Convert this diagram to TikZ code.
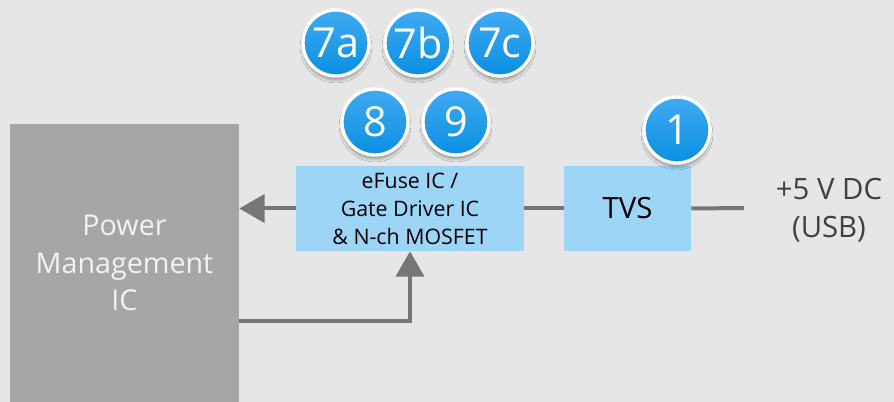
\documentclass[tikz,border=0pt]{standalone}
\usepackage{fontspec}
\setmainfont{Open Sans}
\usetikzlibrary{arrows.meta,shadows.blur}
\definecolor{bg}{HTML}{E6E6E6}
\definecolor{pmicgray}{HTML}{A6A6A6}
\definecolor{boxblue}{HTML}{9DD5F7}
\definecolor{linegray}{HTML}{767676}
\definecolor{txtgray}{HTML}{404040}
\definecolor{badgetop}{HTML}{40AAF2}
\definecolor{badgebot}{HTML}{0A8FE2}
\begin{document}
\begin{tikzpicture}[x=0.75pt,y=-0.75pt,
  blockbox/.style={rectangle,fill=boxblue,inner sep=0pt,align=center,text=black},
  badge/.style={circle,minimum size=66*0.75pt,inner sep=0pt,draw=white,line width=2.5pt,
    top color=badgetop,bottom color=badgebot,text=white,
    font=\fontsize{31}{31}\selectfont,
    blur shadow={shadow xshift=0pt,shadow yshift=-3pt,shadow blur steps=6,shadow opacity=35}},
  conn/.style={draw=linegray,line width=3pt},
  arr/.style={conn,-{Triangle[length=19pt,width=21pt]}}]
\useasboundingbox (0,0) rectangle (894,402);
\fill[bg] (0,0) rectangle (894,402);
% PMIC
\node[rectangle,fill=pmicgray,minimum width=229*0.75pt,minimum height=278*0.75pt,inner sep=0pt,
  align=center,text=white!95!black,font=\fontsize{21.5}{28}\selectfont] (pmic) at (124.5,263) {Power\\Management\\IC};
% eFuse
\node[blockbox,minimum width=228*0.75pt,minimum height=85*0.75pt,font=\fontsize{16}{21}\selectfont] (efuse) at (410,208.5) {eFuse IC /\\Gate Driver IC\\\& N-ch MOSFET};
% TVS
\node[blockbox,minimum width=127*0.75pt,minimum height=85*0.75pt,font=\fontsize{22}{26}\selectfont] (tvs) at (627.5,208.5) {TVS};
% supply label
\node[align=center,text=txtgray,font=\fontsize{22}{28.5}\selectfont] (usb) at (829,210) {+5 V DC\\(USB)};
\coordinate (usbend) at (744,208);
% connectors
\draw[conn] (efuse.east) -- (tvs.west);
\draw[conn] (tvs.east) -- (usbend);
\draw[arr] (efuse.west) -- (efuse.west -| pmic.east);
\coordinate (fbstart) at (pmic.east |- 0,321);
\draw[arr] (fbstart) -| (efuse.south -| 410,0);
% badges
\node[badge] (b7a) at (336,43) {7a};
\node[badge] (b7b) at (418,43) {7b};
\node[badge] (b7c) at (500,43) {7c};
\node[badge] (b8) at (375,122) {8};
\node[badge] (b9) at (456,122) {9};
\node[badge] (b1) at (677,130) {1};
\end{tikzpicture}
\end{document}
